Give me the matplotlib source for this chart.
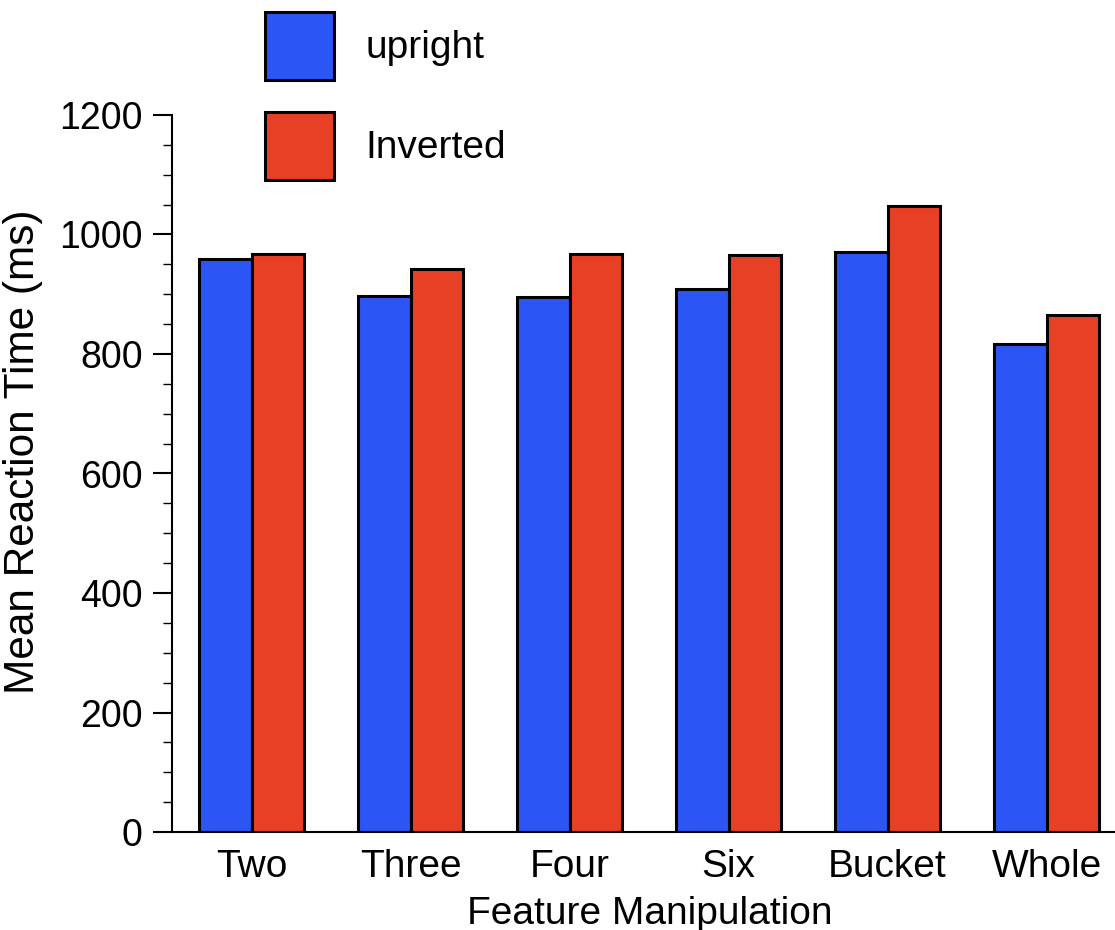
import numpy as np
import matplotlib.pyplot as plt
from matplotlib.ticker import MultipleLocator

plt.rcParams['font.family'] = ['Liberation Sans', 'DejaVu Sans']

# Data
categories = ["Two", "Three", "Four", "Six", "Bucket", "Whole"]
upright = [959, 897, 895, 908, 970, 816]
inverted = [967, 942, 967, 965, 1047, 865]

blue = "#2B55F5"
red = "#E84024"

fig = plt.figure(figsize=(11.15, 9.3), dpi=100)
ax = fig.add_axes([172 / 1115, 1 - 832 / 930, 1 - 172 / 1115, (832 - 115) / 930])

x = np.arange(len(categories))
w = 0.33
b1 = ax.bar(x - w / 2, upright, w, color=blue, edgecolor="black", linewidth=2.2, label="upright")
b2 = ax.bar(x + w / 2, inverted, w, color=red, edgecolor="black", linewidth=2.2, label="Inverted")

ax.set_xlim(-0.5, 5.43)
ax.set_ylim(0, 1200)
ax.set_xticks(x)
ax.set_xticklabels(categories)
ax.yaxis.set_major_locator(MultipleLocator(200))
ax.yaxis.set_minor_locator(MultipleLocator(50))

ax.tick_params(axis="x", length=0, pad=12, labelsize=28)
ax.tick_params(axis="y", which="major", length=14, width=1.5, pad=7, labelsize=27)
ax.tick_params(axis="y", which="minor", length=6.5, width=1.0)

for s in ["top", "right"]:
    ax.spines[s].set_visible(False)
for s in ["left", "bottom"]:
    ax.spines[s].set_linewidth(1.5)

ax.set_xlabel("Feature Manipulation", fontsize=28)
ax.xaxis.set_label_coords(0.507, -0.089)
ax.set_ylabel("Mean Reaction Time (ms)", fontsize=30.5)
ax.yaxis.set_label_coords(-0.137, 0.53)

fig.legend(handles=[b1, b2], loc="upper left",
           bbox_to_anchor=(265 / 1115, 1 - 12 / 930), frameon=False,
           fontsize=28, borderpad=0, handlelength=1.77, handleheight=2.31,
           labelspacing=0.82, handletextpad=0.82, borderaxespad=0)

fig.savefig("out.png", dpi=100)
